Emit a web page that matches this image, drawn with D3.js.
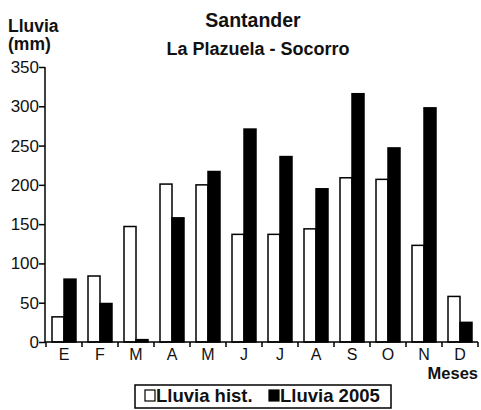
<!DOCTYPE html>
<html>
<head>
<meta charset="utf-8">
<script src="https://cdn.jsdelivr.net/npm/d3@7"></script>
<style>
  body { margin: 0; background: #fff; }
  text { font-family: "Liberation Sans", Arial, sans-serif; fill: #111; }
</style>
</head>
<body>
<div id="chart"></div>
<script>
// Lluvia mensual - Santander, La Plazuela - Socorro
const meses = ["E", "F", "M", "A", "M", "J", "J", "A", "S", "O", "N", "D"];
const lluviaHist = [32, 84, 147, 201, 200, 137, 137, 144, 209, 207, 123, 58];
const lluvia2005 = [80, 49, 3, 158, 217, 271, 236, 195, 316, 247, 298, 25];
const series = ["Lluvia hist.", "Lluvia 2005"];
const yTicks = [0, 50, 100, 150, 200, 250, 300, 350];

const W = 481, H = 410;
const margin = { top: 67, right: 3, bottom: 68, left: 45 };

const svg = d3.select("#chart").append("svg")
    .attr("width", W)
    .attr("height", H);

const idx = d3.range(meses.length);

const x = d3.scaleBand()
    .domain(idx)
    .range([margin.left + 1, W - margin.right])
    .padding(0);

const xs = d3.scaleBand()
    .domain(series)
    .range([6, x.bandwidth() - 6]);

const y = d3.scaleLinear()
    .domain([0, 350])
    .range([H - margin.bottom, margin.top]);

const data = idx.flatMap(i => [
    { i, s: series[0], v: lluviaHist[i] },
    { i, s: series[1], v: lluvia2005[i] }
]);

// bars
svg.append("g")
    .selectAll("rect")
    .data(data)
    .join("rect")
    .attr("x", d => x(d.i) + xs(d.s))
    .attr("y", d => y(d.v))
    .attr("width", xs.bandwidth())
    .attr("height", d => y(0) - y(d.v))
    .attr("fill", d => d.s === series[0] ? "#fff" : "#000")
    .attr("stroke", "#000")
    .attr("stroke-width", 1.5);

// y axis
const yAxis = svg.append("g")
    .attr("transform", `translate(${margin.left},0)`)
    .call(d3.axisLeft(y).tickValues(yTicks).tickSize(6).tickPadding(0));
yAxis.select(".domain").attr("stroke", "#000").attr("stroke-width", 1.5)
    .attr("d", `M0,${y(350)}V${y(0)}`);
yAxis.selectAll(".tick line").attr("stroke", "#000").attr("stroke-width", 1.5);
yAxis.selectAll(".tick text")
    .style("font-size", "17px")
    .attr("fill", "#111");

// x axis
const xAxis = svg.append("g")
    .attr("transform", `translate(0,${y(0)})`)
    .call(d3.axisBottom(x).tickFormat(i => meses[i]).tickSize(0).tickPadding(7));
xAxis.select(".domain").attr("stroke", "#000").attr("stroke-width", 1.5)
    .attr("d", `M${margin.left},0H${x.range()[1]}`);
xAxis.selectAll(".tick text")
    .style("font-size", "16px")
    .attr("fill", "#111");

// boundary ticks between months
const bounds = idx.map(i => x(i)).concat([x.range()[1]]);
xAxis.append("g")
    .selectAll("line")
    .data(bounds)
    .join("line")
    .attr("x1", d => d).attr("x2", d => d)
    .attr("y1", 0).attr("y2", 5)
    .attr("stroke", "#000")
    .attr("stroke-width", 1.5);

// titles
svg.append("text")
    .attr("x", 253).attr("y", 27)
    .attr("text-anchor", "middle")
    .style("font-size", "19.5px")
    .style("font-weight", "bold")
    .text("Santander");

svg.append("text")
    .attr("x", 258).attr("y", 55)
    .attr("text-anchor", "middle")
    .style("font-size", "18px")
    .style("font-weight", "bold")
    .text("La Plazuela - Socorro");

svg.append("text")
    .attr("x", 8).attr("y", 32)
    .style("font-size", "17.5px")
    .style("font-weight", "bold")
    .text("Lluvia");

svg.append("text")
    .attr("x", 8).attr("y", 50)
    .style("font-size", "17.5px")
    .style("font-weight", "bold")
    .text("(mm)");

svg.append("text")
    .attr("x", 478).attr("y", 379)
    .attr("text-anchor", "end")
    .style("font-size", "16.5px")
    .style("font-weight", "bold")
    .text("Meses");

// legend
const legend = svg.append("g");
legend.append("rect")
    .attr("x", 135).attr("y", 385)
    .attr("width", 256).attr("height", 23)
    .attr("fill", "#fff")
    .attr("stroke", "#000")
    .attr("stroke-width", 1.5);

const legX = [145, 269];
series.forEach((s, k) => {
    legend.append("rect")
        .attr("x", legX[k]).attr("y", 390)
        .attr("width", 10).attr("height", 11)
        .attr("fill", k === 0 ? "#fff" : "#000")
        .attr("stroke", "#000")
        .attr("stroke-width", 1.2);
    legend.append("text")
        .attr("x", legX[k] + 11).attr("y", 402)
        .style("font-size", "18.5px")
        .style("font-weight", "bold")
        .text(s);
});
</script>
</body>
</html>
